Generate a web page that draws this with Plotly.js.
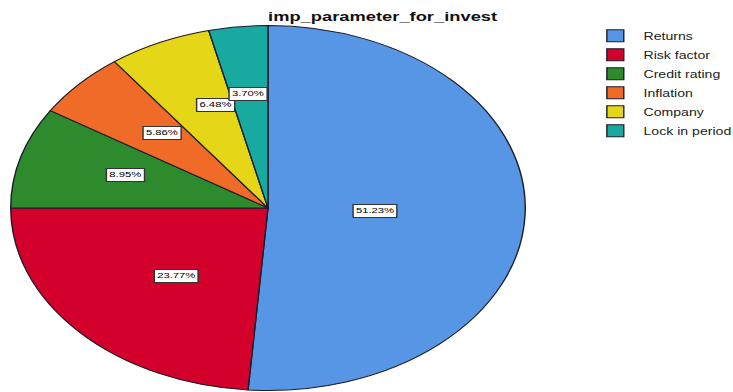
<!DOCTYPE html>
<html><head><meta charset="utf-8">
<script src="https://cdn.plot.ly/plotly-3.0.1.min.js"></script>
<style>
html,body{margin:0;padding:0;background:#fff;overflow:hidden;}
#chart{width:520px;height:392px;transform:scaleX(1.4096);transform-origin:0 0;}
</style></head><body><div id="chart"></div>
<script>
const categories = ["Returns", "Risk factor", "Credit rating", "Inflation", "Company", "Lock in period"];
const percents = [51.23, 23.77, 8.95, 5.86, 6.48, 3.70];
const colors = ["#5796E4", "#D4002C", "#2D8A2D", "#F06A28", "#E6D618", "#18AAA0"];
const chartTitle = "imp_parameter_for_invest";

const W = 520, H = 392;
const dom = {x: [0.0146, 0.7166], y: [0.0038, 0.935]};
const R = Math.min((dom.x[1] - dom.x[0]) * W, (dom.y[1] - dom.y[0]) * H) / 2;
const cx = (dom.x[0] + dom.x[1]) / 2, cy = (dom.y[0] + dom.y[1]) / 2;
const total = percents.reduce((a, b) => a + b, 0);

// labels at sector centroids
const annotations = [];
let cum = 0;
percents.forEach((v, i) => {
  const a0 = cum / total * 2 * Math.PI;
  cum += v;
  const a1 = cum / total * 2 * Math.PI;
  const half = (a1 - a0) / 2, mid = (a0 + a1) / 2;
  const rc = 2 * Math.sin(half) / (3 * half) * R;
  annotations.push({
    xref: 'paper', yref: 'paper',
    x: cx + rc * Math.sin(mid) / W,
    y: cy + rc * Math.cos(mid) / H,
    text: v.toFixed(2) + '%',
    showarrow: false,
    font: {family: 'Liberation Sans, Arial, sans-serif', size: 8, color: '#000'},
    bgcolor: '#ffffff', bordercolor: '#333333', borderwidth: 1, borderpad: 1.5
  });
});

const trace = {
  type: 'pie',
  labels: categories,
  values: percents,
  sort: false,
  direction: 'clockwise',
  rotation: 0,
  textinfo: 'none',
  marker: {colors: colors, line: {color: '#1c1c2a', width: 1}},
  domain: dom
};

const layout = {
  width: W, height: H, autosize: false,
  margin: {l: 0, r: 0, t: 0, b: 0, pad: 0, autoexpand: false},
  paper_bgcolor: '#fff', plot_bgcolor: '#fff',
  title: {text: '<b>' + chartTitle + '</b>', x: 0.522, xanchor: 'center', y: 0.958, yanchor: 'middle', yref: 'container',
          font: {family: 'Liberation Sans, Arial, sans-serif', size: 13, color: '#111'}},
  showlegend: true,
  legend: {x: 0.801, y: 0.946, xanchor: 'left', yanchor: 'top', traceorder: 'normal',
           font: {family: 'Liberation Sans, Arial, sans-serif', size: 10, color: '#222'},
           bgcolor: 'rgba(0,0,0,0)', itemwidth: 30},
  annotations: annotations
};

Plotly.newPlot('chart', [trace], layout, {displayModeBar: false, staticPlot: true});
</script></body></html>
